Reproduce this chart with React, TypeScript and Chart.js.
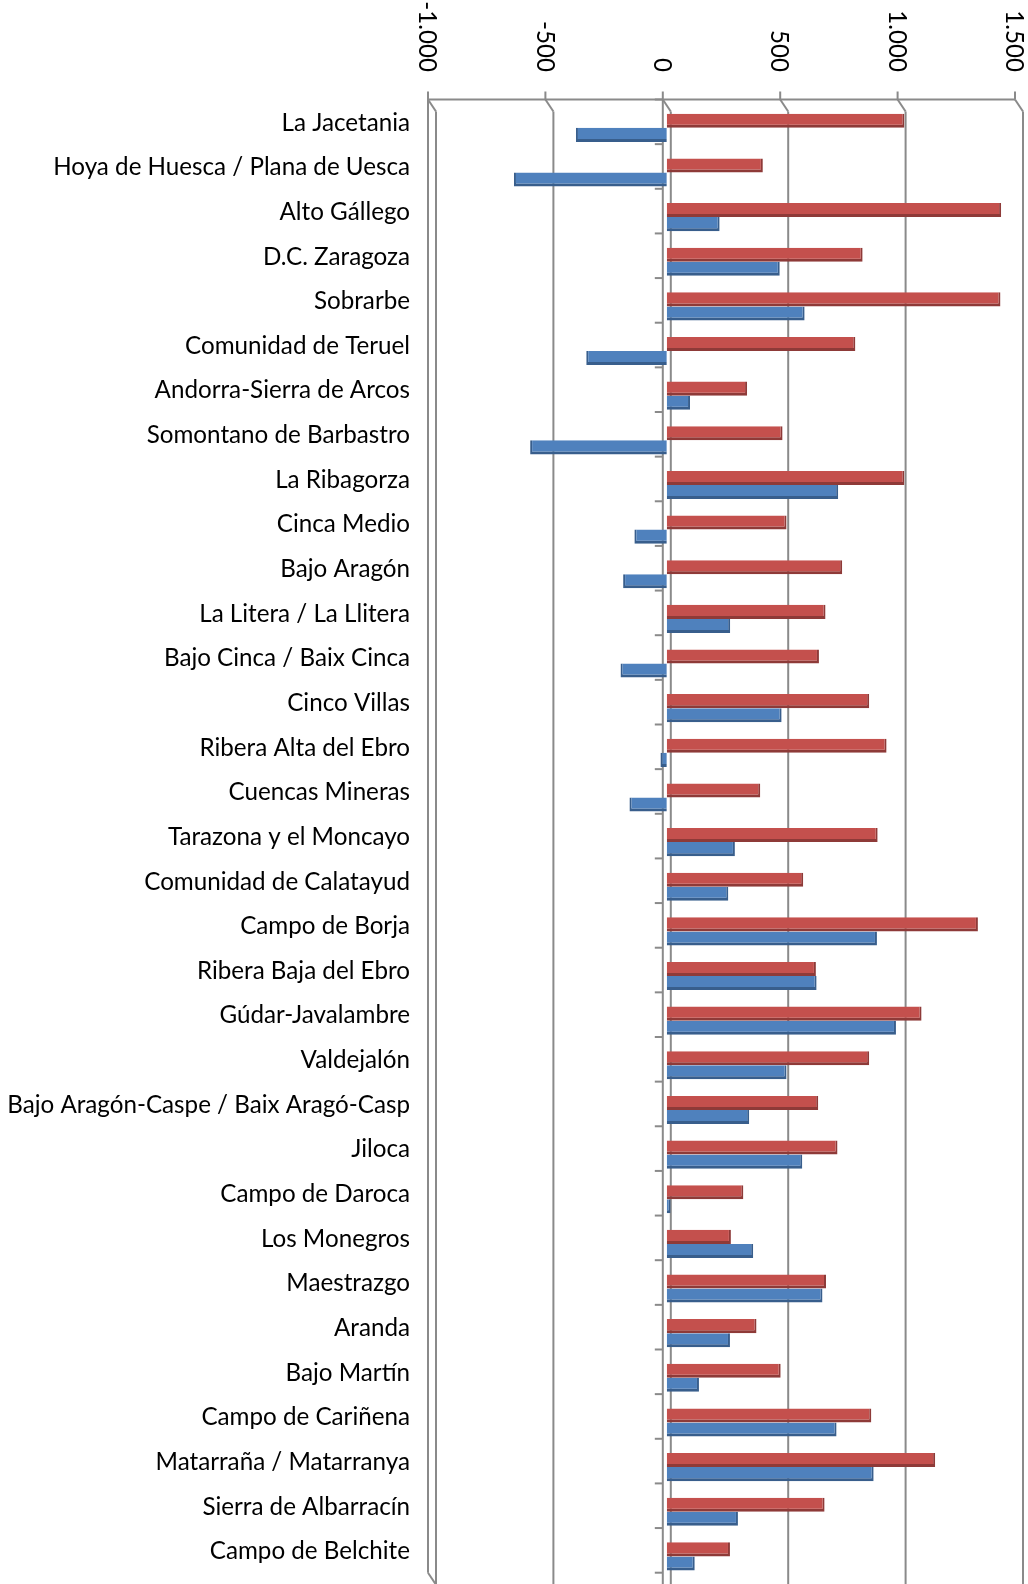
import React, { useEffect, useRef } from "react";
import { Chart, registerables } from "chart.js";

Chart.register(...registerables);

const categories = [
  "La Jacetania",
  "Hoya de Huesca / Plana de Uesca",
  "Alto Gállego",
  "D.C. Zaragoza",
  "Sobrarbe",
  "Comunidad de Teruel",
  "Andorra-Sierra de Arcos",
  "Somontano de Barbastro",
  "La Ribagorza",
  "Cinca Medio",
  "Bajo Aragón",
  "La Litera / La Llitera",
  "Bajo Cinca / Baix Cinca",
  "Cinco Villas",
  "Ribera Alta del Ebro",
  "Cuencas Mineras",
  "Tarazona y el Moncayo",
  "Comunidad de Calatayud",
  "Campo de Borja",
  "Ribera Baja del Ebro",
  "Gúdar-Javalambre",
  "Valdejalón",
  "Bajo Aragón-Caspe / Baix Aragó-Casp",
  "Jiloca",
  "Campo de Daroca",
  "Los Monegros",
  "Maestrazgo",
  "Aranda",
  "Bajo Martín",
  "Campo de Cariñena",
  "Matarraña / Matarranya",
  "Sierra de Albarracín",
  "Campo de Belchite",
];

const redValues = [
  1012, 409, 1424, 834, 1421, 803, 342, 493, 1012, 510, 747, 676, 648, 862, 936,
  398, 898, 581, 1325, 635, 1085, 862, 645, 727, 326, 273, 678, 382, 485, 871,
  1143, 672, 269,
];

const blueValues = [
  -387, -651, 225, 481, 587, -343, 99, -582, 730, -138, -186, 270, -197, 489, -27,
  -159, 290, 262, 895, 638, 976, 510, 351, 577, 16, 368, 663, 269, 137, 723, 881,
  303, 119,
];

const xTickValues = [-1000, -500, 0, 500, 1000, 1500];

const FONT = "Lato, 'Open Sans', sans-serif";
const GRID = "#8a8a8a";
const DX = 4;
const DY = 6;

function fmt(v: number): string {
  const neg = v < 0;
  const s = Math.abs(v).toString().replace(/\B(?=(\d{3})+(?!\d))/g, ".");
  return (neg ? "-" : "") + s;
}

export default function App() {
  const ref = useRef<HTMLCanvasElement>(null);

  useEffect(() => {
    if (!ref.current) return;
    const m = document.createElement("canvas").getContext("2d")!;
    m.font = `26px ${FONT}`;
    const w = m.measureText("Hoya de Huesca / Plana de Uesca").width;
    const fontSize = Math.round((26 * 357) / w * 10) / 10;

    const frame = {
      id: "frame3d",
      beforeDatasetsDraw(chart: any) {
        const { ctx, chartArea } = chart;
        const x = chart.scales.x;
        const n = categories.length;
        const band = (chartArea.bottom - chartArea.top) / n;
        const frontTop = chartArea.top - DY;
        const backTop = chartArea.top + DY;
        const bottom = chart.height;
        ctx.save();
        ctx.strokeStyle = GRID;
        ctx.lineWidth = 2;
        const line = (x1: number, y1: number, x2: number, y2: number) => {
          ctx.beginPath();
          ctx.moveTo(x1, y1);
          ctx.lineTo(x2, y2);
          ctx.stroke();
        };
        // back wall gridlines
        for (const v of xTickValues) {
          const xb = x.getPixelForValue(v) + DX;
          line(xb, backTop, xb, bottom);
        }
        // front top axis
        const xl = x.getPixelForValue(xTickValues[0]) - DX;
        const xr = x.getPixelForValue(xTickValues[xTickValues.length - 1]) - DX;
        line(xl - 1, frontTop, xr, frontTop);
        for (const v of xTickValues) {
          const xf = x.getPixelForValue(v) - DX;
          line(xf, frontTop - 8, xf, frontTop);
          line(xf, frontTop, xf + 2 * DX, backTop);
        }
        // left wall front edge
        const frontBottom = chartArea.bottom - DY;
        line(xl, frontTop, xl, frontBottom);
        line(xl, frontBottom, xl + 2 * DX, frontBottom + 2 * DY);
        // value axis at zero (front)
        const x0 = x.getPixelForValue(0) - DX;
        line(x0, frontTop, x0, bottom);
        for (let i = 0; i <= n; i++) {
          const yb = chartArea.top + i * band - DY;
          line(x0 - 8, yb, x0, yb);
        }
        ctx.restore();
      },
      afterDraw(chart: any) {
        const { ctx } = chart;
        const x = chart.scales.x;
        ctx.save();
        ctx.fillStyle = "#000";
        ctx.font = `${fontSize}px ${FONT}`;
        ctx.textAlign = "right";
        ctx.textBaseline = "middle";
        for (const v of xTickValues) {
          const xf = x.getPixelForValue(v) - DX;
          ctx.save();
          ctx.translate(xf - 1, 72);
          ctx.rotate(Math.PI / 2);
          ctx.fillText(fmt(v), 0, 0);
          ctx.restore();
        }
        ctx.restore();
      },
    };

    const bw = (c: any) => {
      const v = c.raw as number;
      return v >= 0
        ? { top: 0, right: 2, bottom: 3, left: 0 }
        : { top: 0, right: 0, bottom: 3, left: 2 };
    };

    const chart = new Chart(ref.current, {
      type: "bar",
      data: {
        labels: categories,
        datasets: [
          {
            label: "Serie 2",
            data: redValues,
            backgroundColor: "#C4504D",
            borderColor: "#8E3A38",
            borderWidth: bw as any,
            borderSkipped: false,
            categoryPercentage: 0.63,
            barPercentage: 1,
          },
          {
            label: "Serie 1",
            data: blueValues,
            backgroundColor: "#4F81BD",
            borderColor: "#385E8C",
            borderWidth: bw as any,
            borderSkipped: false,
            categoryPercentage: 0.63,
            barPercentage: 1,
          },
        ],
      },
      options: {
        indexAxis: "y",
        responsive: false,
        animation: false,
        layout: { padding: { top: 105.5, right: 9, bottom: 5.3, left: 0 } },
        plugins: {
          legend: { display: false },
          tooltip: { enabled: false },
        },
        scales: {
          x: {
            type: "linear",
            display: false,
            min: -1000,
            max: 1500,
          },
          y: {
            type: "category",
            position: "left",
            grid: { display: false, drawTicks: false },
            border: { display: false },
            ticks: {
              autoSkip: false,
              color: "#000",
              padding: 22,
              labelOffset: -5,
              font: { family: FONT, size: fontSize },
            },
            afterFit(s: any) {
              s.width = 432;
              s.paddingTop = 0;
              s.paddingBottom = 0;
            },
          },
        },
      },
      plugins: [frame],
    });
    return () => chart.destroy();
  }, []);

  return (
    <div style={{ position: "absolute", left: 0, top: 0, width: 1028, height: 1584 }}>
      <canvas ref={ref} width={1028} height={1584} style={{ display: "block" }} />
    </div>
  );
}
